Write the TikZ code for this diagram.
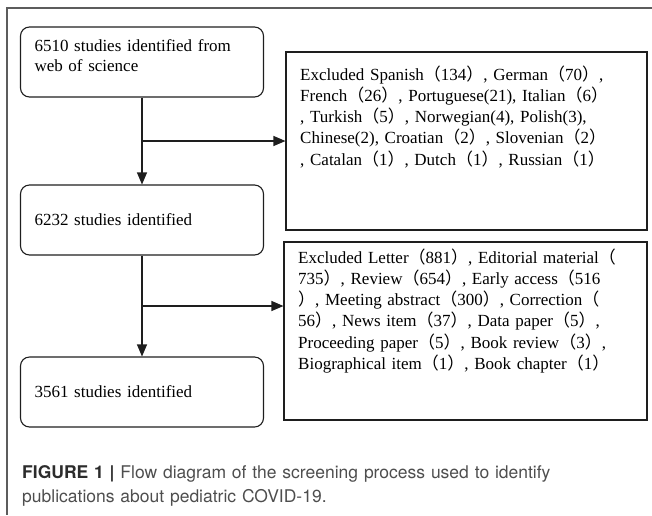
\documentclass[tikz,border=0pt]{standalone}
\usepackage{fontspec}
\setmainfont{Liberation Serif}
\newfontfamily\capfont{TeX Gyre Heros}
\newfontfamily\cjk{Noto Sans CJK SC}
\usepackage{tikz}
\usetikzlibrary{arrows.meta,calc}

\definecolor{linedark}{HTML}{1E1E1E}
\definecolor{framegray}{HTML}{5C5C5C}
\definecolor{capgray}{HTML}{4E4E4E}
\definecolor{capdark}{HTML}{2C2C2C}

% fullwidth brackets as printed
\newcommand{\wlp}{{\cjk （}}
\newcommand{\wrp}{{\cjk ）}}

\tikzset{
  stage/.style={draw=linedark, line width=1.1pt, rounded corners=9pt,
    minimum width=243pt, minimum height=70pt, text width=215pt,
    inner xsep=14pt, align=left, font=\fontsize{17}{20}\selectfont},
  excl/.style={draw=linedark, line width=1.1pt, minimum height=178pt},
  exnote/.style={text width=330pt, inner sep=0pt, align=left,
    font=\fontsize{17}{21.3}\selectfont},
  flow/.style={draw=linedark, line width=1.1pt, -{Triangle[width=10pt,length=12pt]}},
  frame/.style={draw=framegray, line width=1.4pt}
}

\begin{document}
\begin{tikzpicture}[x=1pt,y=-1pt]
    \useasboundingbox (0,0) rectangle (652,515);
    \draw[frame] (652,8) -- (7,8) -- (7,515);

    % main steps
    \node[stage] (s1) at (142,62) {6510 studies identified from\\web of science\\[-7pt]\mbox{}};
    \node[stage] (s2) at (142,220) {6232 studies identified};
    \node[stage] (s3) at (142,392) {3561 studies identified};

    % exclusion boxes
    \node[excl, minimum width=361pt] (x1) at (466.5,141) {};
    \node[excl, minimum width=363pt] (x2) at (465.5,331) {};
    \node[exnote, anchor=base west] (n1) at (300,80) {Excluded Spanish\wlp134\wrp, German\wlp70\wrp,\\
French\wlp26\wrp, Portuguese(21), Italian\wlp6\wrp\\
, Turkish\wlp5\wrp, Norwegian(4), Polish(3),\\
Chinese(2), Croatian\wlp2\wrp, Slovenian\wlp2\wrp\\
, Catalan\wlp1\wrp, Dutch\wlp1\wrp, Russian\wlp1\wrp};
    \node[exnote, anchor=base west] (n2) at (298,263) {Excluded Letter\wlp881\wrp, Editorial material\wlp\\
735\wrp, Review\wlp654\wrp, Early access\wlp516\\
\wrp, Meeting abstract\wlp300\wrp, Correction\wlp\\
56\wrp, News item\wlp37\wrp, Data paper\wlp5\wrp,\\
Proceeding paper\wlp5\wrp, Book review\wlp3\wrp,\\
Biographical item\wlp1\wrp, Book chapter\wlp1\wrp};

    % connectors
    \draw[flow] (s1.south) -- (s2.north);
    \draw[flow] (s2.south) -- (s3.north);
    \coordinate (b1) at ($(s1.south)!0.5!(s2.north)$);
    \coordinate (b2) at ($(s2.south)!0.5!(s3.north)$);
    \draw[flow] (b1) -- (b1 -| x1.west);
    \draw[flow] (b2) -- (b2 -| x2.west);

    % caption
    \node[anchor=base west, inner sep=0pt, text width=620pt, align=left, text=capgray,
      font=\capfont\fontsize{17.5}{24}\selectfont] (cap) at (22,478)
      {{\bfseries\color{capdark}FIGURE 1 |} Flow diagram of the screening process used to identify\\
       publications about pediatric COVID-19.};
\end{tikzpicture}
\end{document}
